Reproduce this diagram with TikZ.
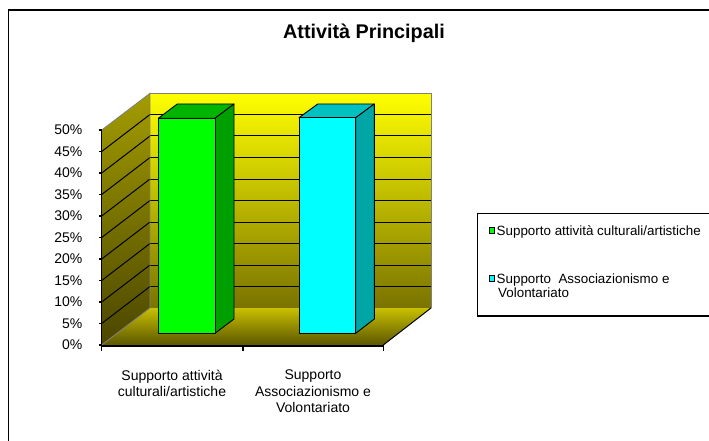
\documentclass[tikz,border=0pt]{standalone}
\usepackage{fontspec}
\setmainfont{Liberation Sans}
\definecolor{bgtop}{HTML}{FFFF00}
\definecolor{bgbot}{HTML}{7A7300}
\definecolor{lwtop}{HTML}{A39C00}
\definecolor{lwbot}{HTML}{4B4600}
\definecolor{fltop}{HTML}{C8C000}
\definecolor{flbot}{HTML}{5C5600}
\definecolor{gfront}{HTML}{00FF00}
\definecolor{gtop}{HTML}{00B400}
\definecolor{gside}{HTML}{009F00}
\definecolor{cfront}{HTML}{00FFFF}
\definecolor{ctop}{HTML}{00C0C0}
\definecolor{cside}{HTML}{00A6A6}
\definecolor{edgegray}{HTML}{808080}
\tikzset{
  frameline/.style={line width=1.6pt, black},
  gridline/.style={line width=1pt, black},
  walledge/.style={line width=0.8pt, edgegray},
  barline/.style={line width=0.9pt, black, line join=round},
  ticklabel/.style={anchor=east, inner sep=0pt, font=\fontsize{14}{16}\selectfont},
  catlabel/.style={anchor=north, inner sep=0pt, align=center, font=\fontsize{14}{16.7}\selectfont},
  legtext/.style={anchor=base west, inner sep=0pt, font=\fontsize{13.4}{16}\selectfont},
  legkey/.style={draw=black, line width=1pt, minimum size=5.5pt, inner sep=0pt},
}
\begin{document}
\begin{tikzpicture}[x=1pt,y=-1pt]
\useasboundingbox (0,0) rectangle (709,441);
\fill[white] (0,0) rectangle (709,441);
% outer frame
\draw[frameline] (8.5,441) -- (8.5,10) -- (709,10);
% title
\node[font=\bfseries\fontsize{19.8}{22}\selectfont, inner sep=0pt] (title) at (364,33) {Attività Principali};
% back wall
\shade[top color=bgtop, bottom color=bgbot] (150,93.3) rectangle (431,308);
\foreach \k in {1,...,9} {
  \draw[gridline] (150,{308-21.5*\k}) -- (431,{308-21.5*\k});
}
\draw[walledge] (150,93.3) -- (431,93.3) -- (431,308);
% left wall
\shade[top color=lwtop, bottom color=lwbot] (101.7,345) -- (150,308) -- (150,93.3) -- (101.7,130) -- cycle;
\foreach \k in {1,...,9} {
  \draw[gridline] (101.7,{345-21.5*\k}) -- (150,{308-21.5*\k});
}
\draw[walledge] (101.7,130) -- (150,93.3) -- (150,308);
% floor
\shade[top color=fltop, bottom color=flbot] (101.7,345) -- (150,308) -- (431,308) -- (383.3,345) -- cycle;
\draw[walledge] (101.7,345) -- (150,308);
\draw[line width=1pt, black] (431,308) -- (383.3,345);
% green bar
\filldraw[barline, fill=gtop] (158.3,118.3) -- (177.3,104) -- (234,104) -- (215,118.3) -- cycle;
\filldraw[barline, fill=gside] (215,118.3) -- (234,104) -- (234,319) -- (215,333.3) -- cycle;
\filldraw[barline, fill=gfront] (158.3,118.3) rectangle (215,333.3);
% cyan bar
\filldraw[barline, fill=ctop] (299,117.7) -- (317.7,104) -- (374.3,104) -- (355.7,117.7) -- cycle;
\filldraw[barline, fill=cside] (355.7,117.7) -- (374.3,104) -- (374.3,319) -- (355.7,333.3) -- cycle;
\filldraw[barline, fill=cfront] (299,117.7) rectangle (355.7,333.3);
% value axis
\draw[line width=1.2pt, black] (101.7,129.3) -- (101.7,345);
\foreach \k in {0,...,10} {
  \pgfmathtruncatemacro{\v}{5*\k}
  \draw[line width=1.2pt] (99,{345-21.5*\k}) -- (101.7,{345-21.5*\k});
  \node[ticklabel] (yl\k) at (82.5,{345-21.5*\k}) {\v\%};
}
% category axis
\draw[line width=2.2pt, black] (100.6,346) -- (384.3,346);
\foreach \x in {101.7,243,383.3} {
  \draw[line width=1.2pt] (\x,346) -- (\x,350.5);
}
\node[catlabel] (cat1) at (172,369.5) {Supporto attività\\culturali/artistiche};
\node[catlabel] (cat2) at (313,369.5) {Supporto\\Associazionismo e\\Volontariato};
% legend
\draw[frameline] (709,213.3) -- (477.3,213.3) -- (477.3,316) -- (709,316);
\node[legkey, fill=gfront] (key1) at (492,230.3) {};
\node[legtext] (leg1) at (496.5,235) {Supporto attività culturali/artistiche};
\node[legkey, fill=cfront] (key2) at (492,278.5) {};
\node[legtext] (leg2a) at (496.5,283.3) {Supporto\ \ Associazionismo e};
\node[legtext] (leg2b) at (498,297.3) {Volontariato};
\end{tikzpicture}
\end{document}
